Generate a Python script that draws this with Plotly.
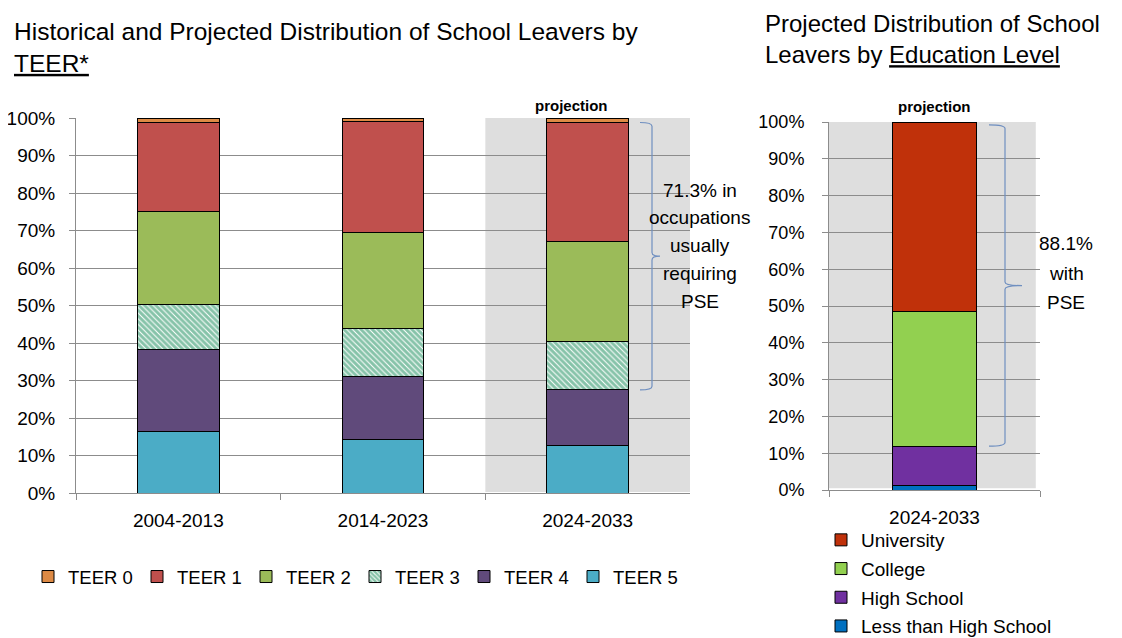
import plotly.graph_objects as go

# ---------------- data ----------------
periods = ["2004-2013", "2014-2023", "2024-2033"]
teer_names = ["TEER 0", "TEER 1", "TEER 2", "TEER 3", "TEER 4", "TEER 5"]
teer0 = [1.2, 1.0, 1.2]
teer1 = [23.8, 29.6, 31.8]
teer2 = [24.8, 25.6, 26.6]
teer3 = [12.0, 12.6, 12.9]
teer4 = [21.7, 16.8, 14.9]
teer5 = [16.5, 14.4, 12.6]

edu_period = ["2024-2033"]
edu_names = ["University", "College", "High School", "Less than High School"]
university = [51.4]
college = [36.7]
high_school = [10.8]
less_than_hs = [1.1]

pse_teer_lines = ["71.3% in", "occupations", "usually", "requiring", "PSE"]
pse_edu_lines = ["88.1%", "with", "PSE"]

# ---------------- style ----------------
FONT = "Liberation Sans, Arial, sans-serif"
GRID = "#8c8c8c"
SHADE = "#dedede"
BRACE = "#6f8fc0"

teer_colors = {"TEER 0": "#dd8a45", "TEER 1": "#c0504d", "TEER 2": "#9bbb59",
               "TEER 3": "#0e8753", "TEER 4": "#604a7b", "TEER 5": "#4bacc6"}
edu_colors = {"University": "#c0310a", "College": "#92d050",
              "High School": "#7030a0", "Less than High School": "#0070c0"}

fig = go.Figure()

teer_vals = {"TEER 0": teer0, "TEER 1": teer1, "TEER 2": teer2,
             "TEER 3": teer3, "TEER 4": teer4, "TEER 5": teer5}
for name in reversed(teer_names):
    marker = dict(color=teer_colors[name], line=dict(color="black", width=1))
    if name == "TEER 3":
        marker = dict(color="white", line=dict(color="black", width=1),
                      pattern=dict(shape="\\", fgcolor=teer_colors[name],
                                   bgcolor="white", size=4, solidity=0.75))
    fig.add_trace(go.Bar(x=periods, y=teer_vals[name], name=name, marker=marker,
                         width=0.4, xaxis="x", yaxis="y", legend="legend",
                         legendrank=teer_names.index(name) + 1))

edu_vals = {"University": university, "College": college,
            "High School": high_school, "Less than High School": less_than_hs}
for name in reversed(edu_names):
    fig.add_trace(go.Bar(x=edu_period, y=edu_vals[name], name=name,
                         marker=dict(color=edu_colors[name], line=dict(color="black", width=1)),
                         width=0.4, xaxis="x2", yaxis="y2", legend="legend2",
                         legendgroup=name, legendrank=edu_names.index(name) + 1))

W, H = 1122, 638
OFF = 8  # page body margin offset
def px(v):
    return (v - OFF) / W
def py(v):
    return 1 - (v - OFF) / H

axis_common = dict(showline=True, linecolor=GRID, linewidth=1, ticks="outside",
                   tickcolor=GRID, ticklen=6)

fig.update_layout(
    width=W, height=H, barmode="stack",
    margin=dict(l=0, r=0, t=0, b=0, pad=0, autoexpand=False),
    paper_bgcolor="white", plot_bgcolor="white",
    xaxis=dict(domain=[px(76), px(690)], anchor="y", tickson="boundaries",
               tickfont=dict(family=FONT, size=19, color="black"),
               ticklabelstandoff=10, **axis_common),
    yaxis=dict(domain=[py(493), py(118)], anchor="x", range=[0, 100],
               tickvals=list(range(0, 101, 10)),
               ticktext=[f"{v}%" for v in range(0, 101, 10)],
               showgrid=True, gridcolor=GRID, gridwidth=1,
               tickfont=dict(family=FONT, size=19, color="black"),
               ticklabelstandoff=10, **axis_common),
    xaxis2=dict(domain=[px(829), px(1040)], anchor="y2", tickson="boundaries",
                tickfont=dict(family=FONT, size=19, color="black"),
                ticklabelstandoff=10, **axis_common),
    yaxis2=dict(domain=[py(490), py(122)], anchor="x2", range=[0, 100],
                tickvals=list(range(0, 101, 10)),
                ticktext=[f"{v}%" for v in range(0, 101, 10)],
                showgrid=True, gridcolor=GRID, gridwidth=1,
                tickfont=dict(family=FONT, size=18, color="black"),
                ticklabelstandoff=14, **axis_common),
    legend=dict(orientation="h", x=px(28), y=py(577), xanchor="left", yanchor="middle",
                traceorder="normal",
                font=dict(family=FONT, size=18.5, color="black"),
                entrywidth=64, bgcolor="rgba(0,0,0,0)"),
    legend2=dict(orientation="v", x=px(821), y=py(521), xanchor="left", yanchor="top",
                 traceorder="grouped", tracegroupgap=1,
                 font=dict(family=FONT, size=19, color="black"),
                 bgcolor="rgba(0,0,0,0)"),
    showlegend=True,
)

# shaded projection regions
fig.add_shape(type="rect", xref="x", yref="y", x0=1.5, x1=2.5, y0=0, y1=100,
              fillcolor=SHADE, line=dict(width=0), layer="below")
fig.add_shape(type="rect", xref="x2 domain", yref="y2", x0=0, x1=0.98, y0=0.5, y1=100,
              fillcolor=SHADE, line=dict(width=0), layer="below")

# braces
def brace(x0, x1, x2, ybot, ytop, ry):
    mid = (ybot + ytop) / 2
    return (f"M{x0},{ytop} Q{x1},{ytop} {x1},{ytop - ry} "
            f"L{x1},{mid + ry} Q{x1},{mid} {x2},{mid} "
            f"Q{x1},{mid} {x1},{mid - ry} "
            f"L{x1},{ybot + ry} Q{x1},{ybot} {x0},{ybot}")

top_l = 100 - teer0[2]
bot_l = teer5[2] + teer4[2]
fig.add_shape(type="path", xref="paper", yref="y",
              path=brace(px(640), px(652), px(660), bot_l, top_l, 1.0),
              line=dict(color=BRACE, width=1.2))
bot_r = less_than_hs[0] + high_school[0]
fig.add_shape(type="path", xref="paper", yref="y2",
              path=brace(px(989), px(1005), px(1022), bot_r, 99.2, 1.0),
              line=dict(color=BRACE, width=1.2))

# annotations (one per line to reproduce the original line spacing)
for i, line in enumerate(pse_teer_lines):
    fig.add_annotation(xref="paper", yref="paper", x=px(700), y=py(190 + 27.8 * i),
                       text=line, showarrow=False, xanchor="center", yanchor="middle",
                       font=dict(family=FONT, size=19, color="black"))
for i, line in enumerate(pse_edu_lines):
    fig.add_annotation(xref="paper", yref="paper", x=px(1066), y=py(244 + 29 * i),
                       text=line, showarrow=False, xanchor="center", yanchor="middle",
                       font=dict(family=FONT, size=19, color="black"))
fig.add_annotation(xref="x", yref="paper", x=1.92, y=py(95), text="<b>projection</b>",
                   showarrow=False, font=dict(family=FONT, size=15, color="black"))
fig.add_annotation(xref="x2", yref="paper", x=0, y=py(96), text="<b>projection</b>",
                   showarrow=False, font=dict(family=FONT, size=15, color="black"))

# titles
fig.add_annotation(xref="paper", yref="paper", x=px(12), y=py(48), xanchor="left",
                   yanchor="middle", align="left", showarrow=False,
                   text="Historical and Projected Distribution of School Leavers by<br>"
                        "<span style='text-decoration:underline'>TEER*</span>",
                   font=dict(family=FONT, size=24.5, color="black"))
fig.add_annotation(xref="paper", yref="paper", x=px(763), y=py(8.5), xanchor="left",
                   yanchor="top", align="left", showarrow=False,
                   text="Projected Distribution of School<br>Leavers by "
                        "<span style='text-decoration:underline'>Education Level</span>",
                   font=dict(family=FONT, size=24, color="black"))

fig.write_html("out.html")
